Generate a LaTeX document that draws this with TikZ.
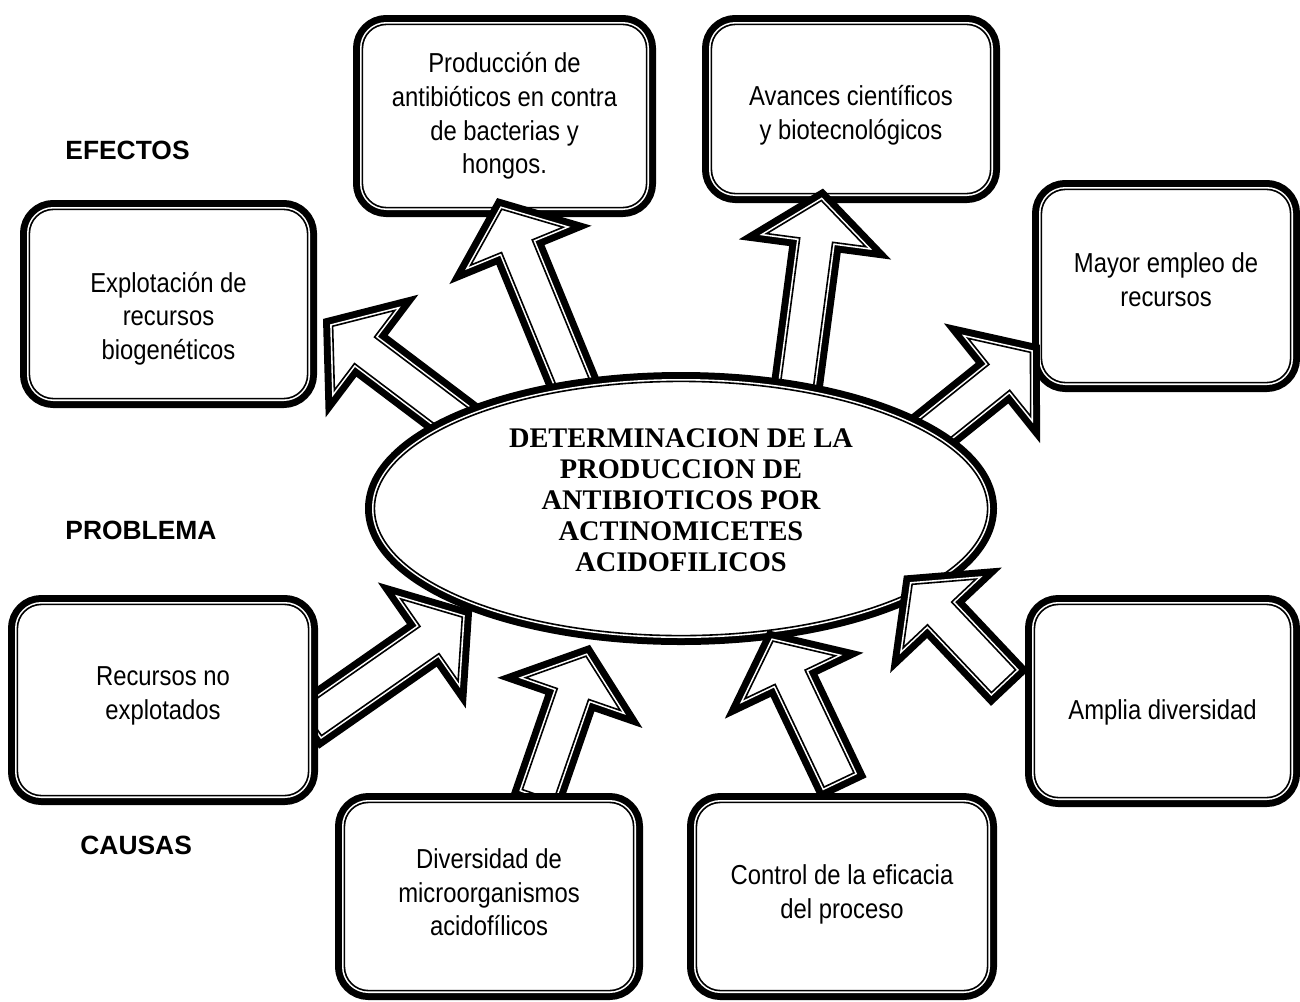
\documentclass[tikz,border=0pt]{standalone}
\usepackage{fontspec}
\setmainfont{Liberation Sans}
\newfontfamily\boxfont{Liberation Sans}[FakeStretch=0.87]
\newfontfamily\ellfont{Liberation Serif}
\usetikzlibrary{calc,shapes.geometric}

% thick outer line, thin inner line
\tikzset{
  dbl/.style={preaction={draw=black,line width=9.4pt},
    preaction={fill=white},
    preaction={draw=white,line width=2.4pt},
    draw=black, line width=0.8pt},
  box/.style={dbl, rectangle, rounded corners=12pt, inner sep=0pt},
  boxtext/.style={align=center, inner sep=0pt,
    font=\boxfont\fontsize{13.7}{16.8}\selectfont},
  tag/.style={anchor=west, inner sep=0pt, font=\bfseries\fontsize{13.2}{15}\selectfont},
}

% block arrow from #1 (tail) to #2 (tip)
\newcommand{\bigarrow}[2]{%
  \coordinate (neck) at ($(#2)!20pt!(#1)$);
  \draw[dbl] ($(#1)!8.3pt!90:(#2)$) -- ($(neck)!8.3pt!90:(#2)$) -- ($(neck)!25pt!90:(#2)$)
    -- (#2) -- ($(neck)!25pt!-90:(#2)$) -- ($(neck)!8.3pt!-90:(#2)$)
    -- ($(#1)!8.3pt!-90:(#2)$) -- cycle;
}

\begin{document}
\begin{tikzpicture}[x=0.5pt,y=-0.5pt]
		\useasboundingbox (0,0) rectangle (1300,1001);
		\clip (0,0) rectangle (1300,1001);
		
		% Effect boxes
		\node[box, minimum width=142.1pt, minimum height=91.6pt] (prod) at (504.5,116) {};
		\node[box, minimum width=139.6pt, minimum height=84.6pt] (avan) at (851,109) {};
		\node[box, minimum width=139.1pt, minimum height=94.6pt] (expl) at (168.5,304) {};
		\node[box, minimum width=124.6pt, minimum height=96.6pt] (mayor) at (1166,286) {};
		\node[boxtext] (prodText) at (prod) {Producción de\\antibióticos en contra\\de bacterias y\\hongos.};
		\node[boxtext] (avanText) at ($(avan)+(0,6.5)$) {Avances científicos\\y biotecnológicos};
		\node[boxtext] (explText) at ($(expl)+(0,14.5)$) {Explotación de\\recursos\\biogenéticos};
		\node[boxtext] (mayorText) at ($(mayor)+(0,-6.5)$) {Mayor empleo de\\recursos};
		
		% Arrows from the problem to the effects
		\coordinate (explTail) at (470,430);  \coordinate (explTip) at (332.6,326.2);
		\coordinate (prodTail) at (580,400);  \coordinate (prodTip) at (501.7,209.2);
		\coordinate (avanTail) at (795,400);  \coordinate (avanTip) at (821.4,200.5);
		\coordinate (mayorTail) at (915,445); \coordinate (mayorTip) at (1030.5,352.3);
		\bigarrow{explTail}{explTip}
		\bigarrow{prodTail}{prodTip}
		\bigarrow{avanTail}{avanTip}
		\bigarrow{mayorTail}{mayorTip}
		
		% The problem
		\node[dbl, ellipse, minimum width=306.6pt, minimum height=127.1pt, inner sep=0pt]
			(prob) at (681,508.5) {};
		\node[align=center, inner sep=0pt, font=\ellfont\bfseries\fontsize{14.2}{15.5}\selectfont]
			(probText) at ($(prob)+(0,-8)$)
			{DETERMINACION DE LA\\PRODUCCION DE\\ANTIBIOTICOS POR\\ACTINOMICETES\\ACIDOFILICOS};
		
		% Arrows from the causes to the problem
		\coordinate (recnoTail) at (312,722); \coordinate (recnoTip) at (462.3,617.1);
		\coordinate (diverTail) at (538,795); \coordinate (diverTip) at (586,656.2);
		\coordinate (contrTail) at (839,780); \coordinate (contrTip) at (772.9,641.1);
		\coordinate (amplTail) at (1003.5,681.2); \coordinate (amplTip) at (912.1,584.3);
		\bigarrow{recnoTail}{recnoTip}
		\bigarrow{diverTail}{diverTip}
		\bigarrow{contrTail}{contrTip}
		\bigarrow{amplTail}{amplTip}
		
		% Cause boxes
		\node[box, minimum width=145.6pt, minimum height=95.6pt] (recno) at (163,700) {};
		\node[box, minimum width=144.6pt, minimum height=94.1pt] (diver) at (489,896.5) {};
		\node[box, minimum width=145.6pt, minimum height=94.1pt] (contr) at (842,896.5) {};
		\node[box, minimum width=128.1pt, minimum height=96.6pt] (ampl) at (1162.5,701) {};
		\node[boxtext] (recnoText) at ($(recno)+(0,-4)$) {Recursos no\\explotados};
		\node[boxtext] (diverText) at ($(diver)+(0,-4)$) {Diversidad de\\microorganismos\\acidofílicos};
		\node[boxtext] (contrText) at ($(contr)+(0,-2)$) {Control de la eficacia\\del proceso};
		\node[boxtext] (amplText) at ($(ampl)+(0,11)$) {Amplia diversidad};
		
		% Row labels
		\node[tag] (efectos) at (65,150) {EFECTOS};
		\node[tag] (problema) at (65,530) {PROBLEMA};
		\node[tag] (causas) at (80,845) {CAUSAS};
	\end{tikzpicture}
\end{document}
